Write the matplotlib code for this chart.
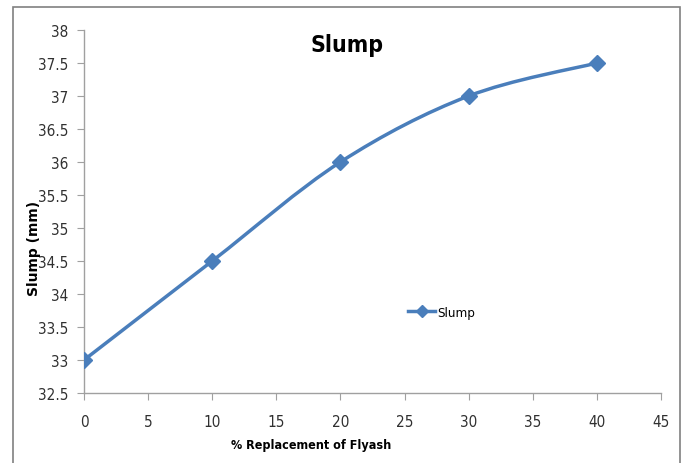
import numpy as np
import matplotlib
matplotlib.use("Agg")
import matplotlib.pyplot as plt
from matplotlib.patches import Rectangle, PathPatch
from matplotlib.path import Path
from matplotlib.lines import Line2D
from matplotlib.font_manager import FontProperties

replacement = [0, 10, 20, 30, 40]
slump = [33, 34.5, 36, 37, 37.5]

x_ticks = [0, 5, 10, 15, 20, 25, 30, 35, 40, 45]
y_ticks = [32.5, 33, 33.5, 34, 34.5, 35, 35.5, 36, 36.5, 37, 37.5, 38]

blue = "#4A7EBB"


def narrow(size, weight="normal"):
    return FontProperties(family="DejaVu Sans", stretch="condensed",
                          size=size, weight=weight)


fig = plt.figure(figsize=(6.82, 4.64), dpi=100)
ax = fig.add_axes([0.1232, 0.1509, 0.846, 0.7823])

# smoothed curve through the points (cardinal Bezier segments)
pts = np.column_stack([replacement, slump]).astype(float)
ext = np.vstack([pts[0], pts, pts[-1]])
verts = [tuple(pts[0])]
codes = [Path.MOVETO]
for i in range(len(pts) - 1):
    p0, p1, p2, p3 = ext[i], ext[i + 1], ext[i + 2], ext[i + 3]
    c1 = p1 + (p2 - p0) / 6.0
    c2 = p2 - (p3 - p1) / 6.0
    verts += [tuple(c1), tuple(c2), tuple(p2)]
    codes += [Path.CURVE4] * 3
ax.add_patch(PathPatch(Path(verts, codes), facecolor="none", edgecolor=blue,
                       lw=2.5, capstyle="round", zorder=3))
ax.plot(replacement, slump, ls="none", marker="D", ms=8, color=blue, zorder=4)

ax.set_xlim(0, 45)
ax.set_ylim(32.5, 38)
ax.set_xticks(x_ticks)
ax.set_yticks(y_ticks)
ax.set_xticklabels([str(v) for v in x_ticks], fontproperties=narrow(11),
                   color="#303030")
ax.set_yticklabels([f"{v:g}" for v in y_ticks], fontproperties=narrow(11),
                   color="#303030")
ax.tick_params(direction="out", length=5, color="#A0A0A0")
ax.tick_params(axis="x", pad=10)
ax.tick_params(axis="y", pad=6)
for s in ["top", "right"]:
    ax.spines[s].set_visible(False)
for s in ["left", "bottom"]:
    ax.spines[s].set_color("#A0A0A0")
    ax.spines[s].set_linewidth(1)

ax.set_xlabel("% Replacement of Flyash", fontproperties=narrow(9, "bold"))
ax.xaxis.set_label_coords(0.393, -0.125)
ax.set_ylabel("Slump (mm)", fontproperties=FontProperties(family="DejaVu Sans",
              size=10, weight="bold"))
ax.yaxis.set_label_coords(-0.074, 0.40)

fig.text(0.509, 0.903, "Slump", fontproperties=narrow(16.5, "bold"),
         ha="center", va="center")

handle = Line2D([], [], color=blue, lw=2.5, marker="D", ms=6)
ax.legend([handle], ["Slump"], loc="center left", bbox_to_anchor=(0.5615, 0.223),
          frameon=False, borderpad=0, borderaxespad=0, handlelength=2.05,
          handletextpad=0.2, prop=narrow(9.5))

# chart area border
fig.patches.append(Rectangle((13 / 682, -0.01), 667 / 682, 1 - 8 / 464 + 0.01,
                             transform=fig.transFigure, fill=False,
                             edgecolor="#808080", lw=1.2))

fig.savefig("out.png", dpi=100)
